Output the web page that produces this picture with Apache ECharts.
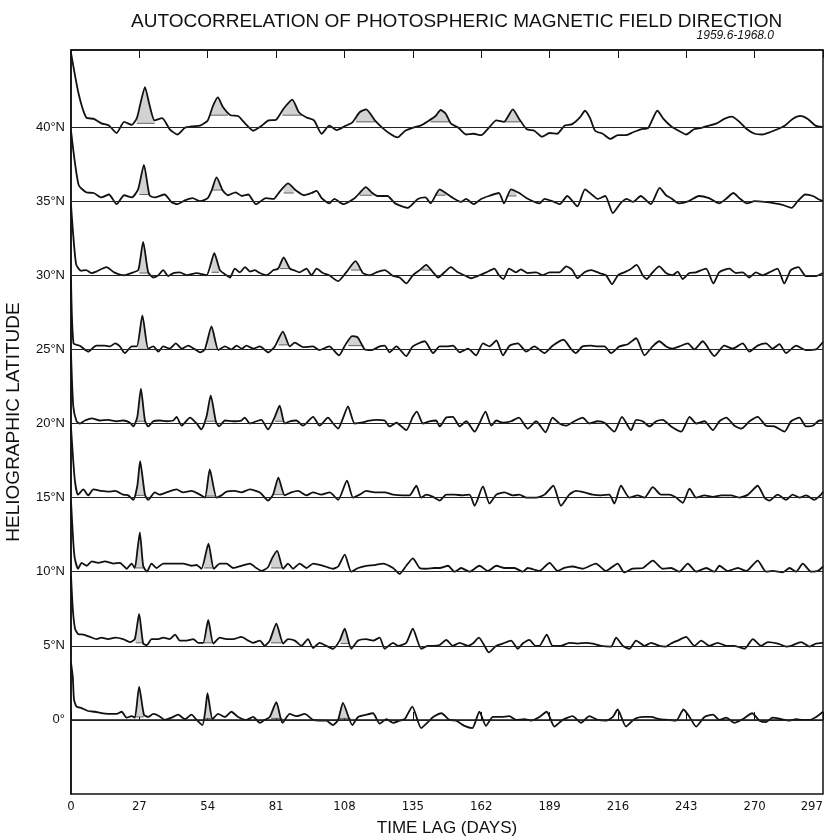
<!DOCTYPE html>
<html><head><meta charset="utf-8">
<script src="https://cdn.jsdelivr.net/npm/echarts@6/dist/echarts.min.js"></script>
<style>html,body{margin:0;padding:0;background:#fff}#c{width:828px;height:838px}</style>
</head><body><div id="c"></div>
<script>
// ---- data: autocorrelation coefficient r versus time lag (days) ----
const latitudes = [40, 35, 30, 25, 20, 15, 10, 5, 0];
const xTicks = [0, 27, 54, 81, 108, 135, 162, 189, 216, 243, 270, 297];
const titleText = 'AUTOCORRELATION OF PHOTOSPHERIC MAGNETIC FIELD DIRECTION';
const periodText = '1959.6-1968.0';

const acf40 = [[0,1.0],[3,0.45],[6,0.13],[9,0.11],[12,0.05],[15,0.02],[18,-0.08],[21,0.07],[24,0.03],[26,0.12],[27.5,0.33],[29.2,0.54],[31,0.3],[33,0.09],[36,0.12],[39,-0.03],[42,-0.1],[45,-0.01],[48,0.01],[51,0.02],[54,0.09],[56,0.28],[58,0.4],[60,0.27],[63,0.16],[66,0.15],[69,0.04],[72,-0.05],[75,0.01],[78,0.09],[81,0.1],[84,0.25],[87.4,0.37],[90,0.2],[93,0.13],[96,0.09],[99,-0.09],[102,0.02],[105,-0.04],[108,0.01],[111,0.06],[114,0.2],[116.6,0.24],[120,0.09],[123,-0.01],[126,-0.09],[129,-0.14],[132,-0.05],[135,-0.01],[138,0.02],[141,0.08],[144,0.15],[146,0.23],[148,0.18],[150,0.05],[153,-0.01],[156,-0.1],[159,-0.09],[162,-0.11],[165,-0.01],[168,0.09],[171,0.07],[174.5,0.24],[177,0.11],[180,-0.03],[183,-0.05],[186,-0.13],[189,-0.08],[192,-0.09],[195,0.02],[198,0.04],[201,0.13],[203,0.22],[205,0.12],[207,-0.05],[210,-0.09],[213,-0.16],[216,-0.11],[219,-0.11],[222,-0.07],[225,-0.03],[228,-0.01],[231.6,0.22],[234,0.11],[237,0.01],[240,-0.05],[243,-0.1],[246,-0.03],[249,-0.01],[252,0.02],[255,0.05],[258,0.11],[261,0.14],[264,0.07],[267,-0.03],[270,-0.09],[273,-0.1],[276,-0.07],[279,-0.03],[282,0.02],[285,0.11],[288,0.15],[291,0.11],[294,0.02],[297,0.0]];
const acf35 = [[0,0.95],[3,0.22],[6,0.12],[9,0.11],[12,0.05],[15,0.09],[18,-0.04],[21,0.08],[24,0.05],[26.5,0.16],[28.8,0.49],[31,0.08],[33,0.05],[37,0.09],[39.6,-0.01],[42,-0.04],[45,0.01],[48,0.04],[51,0],[54,0.04],[55.5,0.14],[57.5,0.32],[60,0.14],[62,0.08],[65,0.12],[67.5,0.07],[70,0.09],[73,-0.04],[77,0.04],[80,0.03],[82,0.11],[85.7,0.24],[89,0.14],[92,0.08],[95,0.11],[97,0.14],[99,0.04],[102,-0.03],[104,0.03],[107.5,-0.04],[112,0.04],[114,0.11],[116.4,0.19],[119,0.11],[121,0.07],[125,0.07],[128,-0.03],[133,-0.09],[137,0.03],[140,0.05],[142,-0.03],[145.6,0.16],[148,0.11],[151,0.04],[154,-0.01],[156,0.03],[159,-0.04],[162,0.03],[165,0.07],[169,0.11],[171,-0.03],[173.8,0.16],[177,0.11],[180,0.04],[185,-0.03],[187,0.03],[190,0],[193,-0.04],[196,0.07],[200,-0.07],[203,0.16],[206,0.08],[208,0.03],[211,0.07],[214,-0.16],[217,-0.03],[219.5,0.03],[222,-0.01],[225,0.07],[229,-0.04],[232.5,0.18],[235,0.08],[237,0.04],[240,-0.03],[244,0],[248,0.07],[252,0.04],[256,-0.03],[259,0.04],[261.6,0.11],[264,0.04],[267,-0.03],[270,0],[274,-0.01],[278,-0.03],[281,-0.05],[284.6,-0.09],[287,0],[290,0.09],[293,0.07],[295,0.03],[297,0]];
const acf30 = [[0,0.95],[2,0.15],[4,0.06],[6,0.07],[8,0.03],[10,0.05],[14,0.11],[17,0.04],[21,0],[24.6,0.04],[26.6,0.07],[28.5,0.45],[30.5,0.04],[32.5,-0.03],[34.5,0],[36.4,0.07],[38.4,-0.01],[40.4,0.03],[43,0.04],[45.7,0],[49.6,0.03],[53.5,0],[56.6,0.3],[58.8,0.07],[61.4,0],[62.8,-0.03],[64.7,0.09],[66.7,0.04],[68.7,0.11],[70.7,0.05],[72.6,0.07],[74.6,0.03],[77.2,0],[80,0.07],[81.8,0.09],[84,0.24],[86.4,0.09],[88,0.07],[90.3,0.04],[93,0.09],[95,0],[97,0.09],[99.5,0.03],[102,0],[105.5,-0.08],[108.7,0.04],[112.4,0.19],[115.3,0.03],[118,0],[120.6,0.04],[123.9,0.07],[127.2,-0.01],[129.8,-0.03],[132.4,-0.11],[135,0],[137.7,0.07],[140.3,0.14],[143,0.04],[145,-0.03],[147.5,0.04],[150,0.11],[152.8,0.04],[156,-0.01],[158,-0.04],[161.3,0],[164,0.04],[167.2,0.09],[169,0],[170.8,-0.05],[173,0.09],[175.8,0.04],[177.7,0.08],[180.4,0.03],[183.7,0.04],[186.3,0],[189,0.04],[192.9,0.04],[195.6,0.12],[198,0.07],[200,-0.04],[202.8,0.04],[205.5,0.07],[208.7,0.03],[211.3,0],[213.7,-0.12],[216,0],[218.5,0.04],[220.5,0.07],[223.4,0.14],[225.8,0],[227.4,-0.05],[229.7,0.04],[232.3,0.12],[235,0.03],[237.6,0],[239.6,0.05],[241.6,-0.05],[244.2,0.03],[246.8,0.04],[250.8,0.09],[253.7,-0.11],[256,0.04],[260,0.09],[262.6,0.03],[265.3,0.04],[267.9,-0.03],[270.5,0.04],[273.1,0],[275.8,0.04],[279,0.09],[281.7,-0.11],[284.3,0.07],[287.3,0.11],[290.2,-0.01],[294.2,-0.01],[297,0.03]];
const acf25 = [[0,0.95],[1,0.08],[3.5,0.05],[6.8,-0.03],[10,0.05],[13.4,0.05],[15.4,0.04],[17.4,0.08],[19.3,0.04],[21.3,-0.05],[24,0.04],[26,0.04],[28.2,0.46],[30.5,0.01],[32.5,0.04],[34.5,-0.03],[36.4,0.04],[39,0.01],[41.4,0.08],[43.7,0.01],[46.3,0.05],[49,0],[51,-0.04],[52.9,0],[55.5,0.31],[58.2,-0.01],[60.8,0.04],[63.4,0],[65.4,0.05],[67.4,0.01],[69.3,0.05],[72,0.01],[74.6,0.04],[77.9,-0.04],[80.5,0.04],[83.7,0.24],[86.4,0.04],[88.4,0.09],[91.6,0.03],[95.6,0.04],[98,-0.01],[102,0.04],[105.9,-0.08],[108,0.04],[111,0.18],[113.3,0.16],[116,0],[118.6,-0.01],[121.9,0.04],[123.9,0.05],[125.8,-0.04],[128.5,0.04],[132.4,-0.09],[135,0.04],[139.7,0.11],[143,-0.05],[145.6,0.04],[148.2,0.04],[150.9,0.05],[153.5,-0.04],[156.8,0.01],[160,-0.08],[162.7,0.08],[165.3,0.04],[168,0.12],[170.6,-0.08],[173.2,0.05],[176.5,0.08],[179.8,-0.03],[183,0.04],[187,-0.05],[190.2,0.05],[194.5,0.13],[197.4,0.01],[199.4,-0.05],[202,0.04],[205.5,0.05],[208,0.04],[210.7,0.04],[213.3,-0.05],[216.6,0.04],[219.9,0.07],[223.2,0.15],[226.5,-0.08],[229.7,0.04],[232.3,0.11],[235,0.04],[237.6,0.01],[240.3,0.04],[243.6,0.08],[246.2,0],[249.5,0.11],[254.1,-0.09],[258,0.05],[261.3,0.01],[265.3,0.08],[267.9,-0.03],[271.2,0.05],[274.5,0.08],[277.1,0.01],[279.8,0.07],[282.4,-0.05],[286.4,0.05],[290.2,-0.01],[294.2,0],[297,0.1]];
const acf20 = [[0,0.95],[0.9,0.23],[2.2,0.03],[3.5,0],[5.5,0.04],[8.2,0.07],[11.4,0.04],[14.7,0.05],[18,0.03],[20.6,0.04],[23.3,0.01],[24.6,-0.04],[26.2,0.09],[27.6,0.47],[29.2,0.04],[30.5,-0.04],[32.5,0.03],[35,0.04],[37.7,0.03],[40.4,0.04],[41.7,0.09],[43.7,-0.03],[47,0.08],[49.6,0],[51.5,-0.08],[53.5,0.09],[55.2,0.38],[57.2,0.03],[58.5,-0.04],[60.8,0.04],[64,0.03],[67.3,0.04],[68.6,0.08],[70.6,0],[73.2,0.03],[75.2,0.05],[77.8,-0.08],[80.5,0.09],[82.4,0.24],[84.4,0],[86.4,0.03],[89,0.04],[91.6,-0.03],[95.6,0.09],[98.2,-0.03],[101.5,0.08],[103.5,0],[105.5,-0.07],[107.4,0.07],[109.4,0.23],[112,0],[114.7,0.01],[117.9,0.04],[120.6,0.05],[123.9,0.04],[125.8,-0.04],[128.5,0.01],[132.4,-0.09],[135,0.09],[136.6,0.16],[139,0],[141.6,0.03],[144.2,0.04],[145.6,-0.04],[148.2,0.08],[150.8,0.09],[153.5,-0.04],[156.1,0.03],[159.4,-0.11],[161.3,0],[163.7,0.16],[166,-0.03],[168,0.04],[170.5,0.01],[173.8,0.03],[176.9,0.08],[180.4,-0.07],[183.7,0.03],[187.4,-0.12],[190.2,0.08],[192.9,0],[195.5,-0.03],[198.8,0.03],[202.1,0.08],[204.7,0],[208,0.03],[210.7,0.01],[214.6,-0.11],[217.6,0.09],[221.2,-0.09],[223.2,0.05],[225.8,0.03],[228.5,-0.04],[231.1,0.03],[233.7,0.05],[237,-0.04],[241,-0.11],[244.3,0.09],[246.9,0],[250.2,0.03],[253.5,-0.09],[256.1,0.03],[258.8,0.08],[262,-0.03],[264.7,-0.07],[268,0.03],[271.2,0.09],[274.5,-0.03],[277.8,-0.04],[281.8,-0.11],[284.4,0.03],[287.7,0.08],[290.3,-0.04],[293,-0.03],[295.6,0.04],[297,0.04]];
const acf15 = [[0,0.95],[1.5,0.24],[2.8,0.04],[4.9,0.11],[6.8,0.03],[8.8,0.11],[12,0.09],[14.7,0.08],[17.4,0.09],[20.6,0.04],[22.6,0.03],[24.6,-0.03],[26.2,0.16],[27.3,0.49],[29.2,0.04],[30.5,-0.03],[33.1,0.07],[35,0.04],[37.7,0.07],[41.7,0.11],[44.3,0.07],[47.6,0.09],[50.9,0.04],[52.9,0],[54.8,0.38],[57.5,0],[59.4,0.03],[61.4,0.08],[64.7,0.09],[67.3,0.07],[70.6,0.11],[74.6,0.07],[77.8,-0.04],[79.8,0.04],[81.9,0.27],[84.4,0.03],[87,0.07],[89.7,0.09],[93,0.03],[95.6,0.07],[98.9,0.04],[102.2,0.07],[105.5,-0.03],[109,0.23],[111.4,0],[114,0.04],[116.6,0.09],[119.9,0.07],[123.9,0.07],[127.2,0.04],[131.1,0.03],[133.7,0.03],[136.4,0.16],[138.3,0],[140.3,0.04],[143,0.01],[145.6,-0.04],[148.2,0.04],[151.5,0.04],[154.8,0.03],[157.4,0.04],[159.4,-0.11],[162.7,0.15],[165.3,-0.08],[168,0.04],[171.2,0.07],[174.5,0.03],[177.1,0.04],[179.8,0],[183.7,0],[187,0.04],[190.5,0.16],[193.5,-0.11],[196.8,0.04],[199.4,0.09],[202.7,0.07],[206,0.04],[209.3,0.03],[212.6,0.04],[214.6,-0.08],[217.2,0.16],[220.5,0],[223.8,0.03],[226.5,0],[229.8,0.14],[233,0.04],[236.3,0.04],[239,0],[241.6,-0.07],[244.3,0.12],[246.9,0],[250.2,0.03],[253.5,0.01],[256.8,0.03],[260.7,0.03],[264,0],[267.4,0.04],[271.2,0.16],[273.9,0],[275.8,-0.04],[279.1,0.04],[282.4,-0.03],[285,0.04],[287.7,0],[290.3,0.03],[293.6,-0.03],[296.2,0.04],[297,0.08]];
const acf10 = [[0,0.95],[0.9,0.4],[1.5,0.18],[2.8,0.04],[4.2,0.12],[6.2,0.08],[8.2,0.14],[10.8,0.12],[13.4,0.14],[16.7,0.11],[19.3,0.12],[22,0.04],[23.9,0.11],[25.2,0.05],[26.3,0.31],[27.2,0.53],[28.5,0.08],[30,0],[31.8,0.11],[33.8,0.05],[36.4,0.11],[40.4,0.11],[44.3,0.11],[47.6,0.08],[49.6,0.09],[51.5,0.04],[54.3,0.38],[56.4,0.04],[58.8,0.11],[61.4,0.11],[64,0.05],[67.3,0.08],[70.6,0.11],[73.2,0.05],[75.2,0.01],[77.8,0.06],[79.4,0.18],[81.4,0.28],[83.8,0.04],[85.7,0.11],[87.7,0.04],[90.3,0.11],[93,0.05],[95.6,0.11],[99.5,0.08],[103.5,0.04],[105.5,0.07],[108.1,0.23],[110.7,0],[113.4,0.05],[116.6,0.08],[119.9,0.09],[123.2,0.11],[127.2,0.05],[129.8,-0.03],[132.4,0.08],[135,0.18],[137.7,0.05],[140.3,0.04],[143.6,0.05],[145.6,0.05],[148.9,0.08],[151.5,0],[154.1,0.05],[157.4,0],[161.3,0.08],[164.6,0.01],[168,0.08],[171.2,0.05],[175.1,0.05],[178.4,0],[180.4,0.05],[185,0.01],[189,0.12],[192.2,0.01],[194.8,0.05],[198.1,0.07],[202.1,0.04],[207.3,0.11],[211.3,0.01],[215.9,0.11],[218.5,-0.01],[221.8,0.04],[225.8,0.05],[229.8,0.15],[233.7,0.04],[237,0.05],[240.3,0],[243.6,0.11],[246.9,0],[250.9,0.05],[254.1,0],[256.1,0.08],[259.4,0.01],[263.4,0.05],[266.7,0.01],[271.2,0.15],[274.5,0],[277.1,0.01],[281.1,-0.01],[283.8,0.05],[286.4,0],[289,0.11],[292.3,0],[295,0.01],[297,0.07]];
const acf5 = [[0,0.95],[0.7,0.5],[1.6,0.23],[2.8,0.16],[4.9,0.15],[7.5,0.12],[10.1,0.09],[12,0.11],[14.7,0.09],[17.4,0.11],[20.6,0.09],[23.3,0.05],[25.2,0.09],[26.9,0.43],[28.5,0.03],[30,0.01],[31.8,0.09],[34.5,0.09],[36.4,0.11],[39,0.09],[41.1,0.15],[43,0.07],[45.6,0.07],[48.3,0.09],[50.2,0.04],[52.2,0.04],[54.2,0.35],[56.2,0.03],[58.8,0.11],[61.4,0.09],[64,0.09],[67.3,0.12],[70,0.07],[71.9,0.04],[74.6,0.07],[76.5,0],[78.5,0.07],[81.1,0.3],[83.8,0.03],[85.7,0.09],[88.4,0.07],[91,0],[93.6,0.09],[95.6,-0.03],[98.2,0.04],[100.8,0],[103.5,-0.04],[106.1,0.07],[108.1,0.23],[110.7,-0.04],[113.4,0.07],[116.6,0.09],[119.3,0.07],[121.9,0.11],[123.9,-0.04],[127.2,0.04],[129.1,0],[132.4,0.04],[135,0.23],[138.3,-0.04],[140.9,0],[143,0],[145.6,0.01],[148.2,0.08],[150.8,0],[153.5,0.04],[156.8,0],[158.7,0.03],[161.1,0.11],[163.3,0],[165,-0.09],[168,0],[170.5,0.03],[173.8,0.07],[176.5,-0.04],[178.4,0.03],[181,0.08],[183.4,0],[185,0],[187.9,0.15],[190.2,0],[193.5,0],[196.8,0.04],[200.1,0.03],[203.4,0.04],[206,0.03],[209.3,0],[213.3,-0.01],[215.3,0.11],[217.9,0],[220.5,-0.04],[223.2,0.07],[226.5,0],[229.1,0.04],[232.4,0],[235,-0.01],[237,0.03],[239.6,0.07],[242.9,0.12],[246.2,0],[248.9,0.07],[252.1,0],[255.4,0.04],[258.8,0],[262,0],[266,-0.04],[269.3,0.09],[272.6,0],[275.2,0.05],[279.2,0.03],[282.4,-0.01],[284.4,0],[288.4,0.05],[291.6,-0.01],[294.3,0.03],[297,0.04]];
const acf0 = [[0,0.77],[0.7,0.58],[1.2,0.27],[2.2,0.18],[4.2,0.16],[6.8,0.12],[9.5,0.11],[12,0.09],[14.7,0.08],[18,0.08],[20,0.11],[22,0.03],[23.9,0.05],[25.2,0.03],[26.9,0.45],[28.8,0.07],[30.5,0.04],[32.5,0.08],[34.9,0.05],[37,0],[39.7,0.03],[42.3,0.07],[45,0.01],[47.6,0.07],[49.6,0],[51.9,-0.07],[53.1,0.14],[53.9,0.36],[55.9,0.01],[58.1,0.08],[60.8,0.04],[63.3,0.11],[66,0.04],[69.3,0],[71.9,0.04],[74.6,-0.04],[76.5,0],[78.5,0.04],[81.1,0.24],[83.5,-0.04],[86.4,0.08],[89,0.05],[92.3,0.08],[95.6,0],[98.2,-0.01],[100.8,-0.01],[103.5,-0.07],[105.5,0],[107.4,0.23],[111.1,-0.07],[113.4,0.04],[116.6,0.07],[119.3,0.09],[121.9,-0.05],[124.6,0.01],[127.2,-0.04],[129.8,-0.01],[131.8,0.01],[134.8,0.18],[138.3,-0.11],[141.6,-0.01],[143,0.04],[146.3,0.09],[149.5,0],[152.1,-0.01],[155.4,-0.08],[158.5,-0.11],[161.3,0.11],[163.9,-0.08],[166.6,0.04],[169.9,0.04],[173.1,0.05],[175.8,0],[179.1,0.01],[181.7,-0.01],[185,0.04],[187.9,0.11],[190.9,-0.09],[194.2,0],[198.1,0.05],[201.4,-0.04],[204.7,0.05],[208,0],[211.3,-0.01],[214,0.04],[215.9,0.14],[219.2,-0.09],[222.5,0.01],[225.8,0.04],[229.1,0.04],[232.4,0.01],[235.7,0],[239,-0.01],[241.9,0.14],[244.3,0.04],[246.9,-0.09],[250.2,0.04],[253.5,0.07],[256.1,0],[258.8,0.03],[262,-0.04],[265.3,0.01],[269,0.09],[271.9,-0.01],[274.5,-0.03],[277.1,0.03],[280.5,0.01],[283.8,-0.01],[286.4,0.01],[289,0],[291.6,0],[294.3,0.04],[297,0.11]];

// shaded (stippled) recurrence peaks: [start lag, end lag, base level of r]
const shade40 = [[26,33,0.05],[55,62,0.16],[83.5,91,0.16],[112.5,120,0.07],[142,150,0.07],[171,177.5,0.07]];
const shade35 = [[27,31,0.09],[56,60,0.15],[84,88,0.11],[114,119,0.08],[144,148,0.08],[172.5,176,0.07]];
const shade30 = [[27,30.5,0.03],[55.5,58.5,0.04],[82.5,86,0.09],[110.5,114.5,0.07],[138.5,142,0.07]];
const shade25 = [[26.5,30,0.0],[54,57.5,0.0],[82,86,0.06],[109.5,115.5,0.05]];
const shade20 = [[26,29.2,0.03],[53.5,57,0.03],[80.5,84.4,0.03]];
const shade15 = [[25.5,29,0.03],[53,57,0.02],[80,84,0.04]];
const shade10 = [[25.5,28.8,0.05],[52.5,56.4,0.05],[79,83.8,0.05]];
const shade5  = [[25.5,28.5,0.04],[52.5,56.2,0.04],[79,83.8,0.04],[106.5,110,0.03]];
const shade0  = [[25.5,28.8,0.04],[52.5,55.9,0.02],[79,83.5,0.02],[105.5,110.5,0.02]];

const acfByLat = [acf40, acf35, acf30, acf25, acf20, acf15, acf10, acf5, acf0];
const shadeByLat = [shade40, shade35, shade30, shade25, shade20, shade15, shade10, shade5, shade0];
const R_SCALE = 5; // r = 1 spans one 5-degree latitude step

// ---- chart ----
const FONT = '"Liberation Sans","DejaVu Sans",sans-serif';
const NUMFONT = '"DejaVu Sans Condensed","Liberation Sans Narrow","Liberation Sans",sans-serif';
const chart = echarts.init(document.getElementById('c'), null, {renderer: 'canvas'});

function clipAbove(acf, s, e, lvl) {
  const out = [[s, lvl]];
  for (let j = 0; j < acf.length - 1; j++) {
    const [t0, r0] = acf[j], [t1, r1] = acf[j + 1];
    if (t1 < s || t0 > e) continue;
    const a = Math.max(t0, s), b = Math.min(t1, e);
    const f = t => r0 + (r1 - r0) * (t - t0) / (t1 - t0);
    const ra = f(a), rb = f(b);
    out.push([a, Math.max(ra, lvl)]);
    if ((ra - lvl) * (rb - lvl) < 0) {
      out.push([a + (b - a) * (lvl - ra) / (rb - ra), lvl]);
    }
    out.push([b, Math.max(rb, lvl)]);
  }
  out.push([e, lvl]);
  return out;
}

const regions = [];
latitudes.forEach((lat, i) => {
  shadeByLat[i].forEach(([s, e, lvl]) => regions.push({lat, acf: acfByLat[i], s, e, lvl}));
});

const series = [];
series.push({
  type: 'custom',
  z: 1,
  silent: true,
  clip: true,
  data: regions.map(r => [r.s, r.lat]),
  encode: {x: 0, y: 1},
  renderItem: function (params, api) {
    const reg = regions[params.dataIndex];
    const pts = clipAbove(reg.acf, reg.s, reg.e, reg.lvl)
      .map(p => api.coord([p[0], reg.lat + R_SCALE * p[1]]));
    const b0 = api.coord([reg.s, reg.lat + R_SCALE * reg.lvl]);
    const b1 = api.coord([reg.e, reg.lat + R_SCALE * reg.lvl]);
    return {
      type: 'group',
      children: [
        {type: 'polygon', shape: {points: pts}, style: {fill: '#d2d2d2'}},
        {type: 'line', shape: {x1: b0[0], y1: b0[1], x2: b1[0], y2: b1[1]},
         style: {stroke: '#444', lineWidth: 0.8}}
      ]
    };
  }
});

latitudes.forEach((lat, i) => {
  series.push({
    type: 'line',
    name: lat === 0 ? '0°' : lat + '°N',
    data: acfByLat[i].map(([t, r]) => [t, lat + R_SCALE * r]),
    showSymbol: false,
    symbol: 'none',
    smooth: 0.2,
    z: 3,
    silent: true,
    lineStyle: {color: '#111', width: 1.8},
    markLine: {
      silent: true,
      symbol: 'none',
      label: {show: false},
      lineStyle: {color: '#222', width: 1, type: 'solid'},
      data: [{yAxis: lat}]
    }
  });
});

const option = {
  backgroundColor: '#fff',
  animation: false,
  textStyle: {fontFamily: FONT},
  title: {
    text: titleText,
    left: 126, top: 7,
    textStyle: {fontFamily: FONT, fontSize: 19, fontWeight: 'normal', color: '#111'}
  },
  graphic: [{
    type: 'text', right: 54, top: 30,
    style: {text: periodText, font: 'italic 12px "Liberation Sans", sans-serif', fill: '#111'}
  }],
  grid: {left: 71, right: 5, top: 50, bottom: 44, show: true, borderColor: '#111', borderWidth: 1.5,
         outerBoundsMode: 'none', containLabel: false},
  xAxis: [{
    type: 'value', min: 0, max: 297, interval: 27, position: 'bottom',
    name: 'TIME LAG (DAYS)', nameLocation: 'middle', nameGap: 26,
    nameTextStyle: {fontSize: 17, color: '#111', fontFamily: FONT},
    axisLine: {show: true, lineStyle: {color: '#111', width: 1.5}},
    axisTick: {show: true, inside: true, length: 8, lineStyle: {color: '#111'}},
    axisLabel: {color: '#111', fontSize: 13, margin: 6, fontFamily: NUMFONT, alignMaxLabel: 'right',
      formatter: v => xTicks.includes(v) ? String(v) : ''},
    splitLine: {show: false}
  }, {
    type: 'value', min: 0, max: 297, interval: 27, position: 'top',
    axisLine: {show: true, lineStyle: {color: '#111', width: 1.5}},
    axisTick: {show: true, inside: true, length: 8, lineStyle: {color: '#111'}},
    axisLabel: {show: false},
    splitLine: {show: false}
  }],
  yAxis: {
    type: 'value', min: -5, max: 45.2, interval: 5,
    name: 'HELIOGRAPHIC LATITUDE', nameLocation: 'middle', nameGap: 48, nameRotate: 90,
    nameTextStyle: {fontSize: 19, color: '#111', fontFamily: FONT},
    axisLine: {show: true, lineStyle: {color: '#111', width: 1.5}},
    axisTick: {show: false},
    splitLine: {show: false},
    axisLabel: {
      color: '#111', fontSize: 13, margin: 6, fontFamily: FONT,
      formatter: v => (v === 0 ? '0°' : (latitudes.includes(v) ? v + '°N' : ''))
    }
  },
  series
};
chart.setOption(option);
</script>
</body></html>
